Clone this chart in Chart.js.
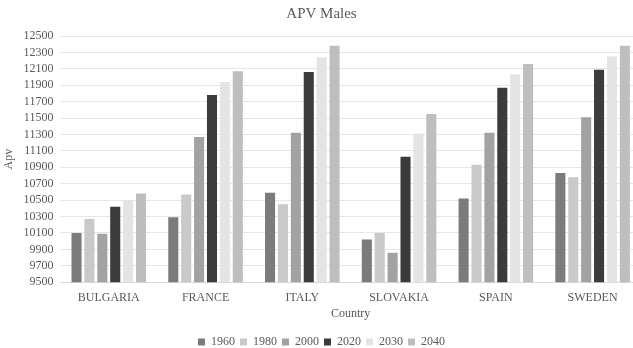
<!DOCTYPE html>
<html>
<head>
<meta charset="utf-8">
<script src="https://cdn.jsdelivr.net/npm/chart.js@4/dist/chart.umd.min.js"></script>
<style>
  html, body { margin: 0; padding: 0; background: #fff; overflow: hidden; }
  #wrap { width: 645px; height: 348px; }
</style>
</head>
<body>
<div id="wrap"><canvas id="apv" width="645" height="348"></canvas></div>
<script>
// Data
var countries = ['BULGARIA', 'FRANCE', 'ITALY', 'SLOVAKIA', 'SPAIN', 'SWEDEN'];
var years = ['1960', '1980', '2000', '2020', '2030', '2040'];
var v1960 = [10100, 10290, 10590, 10020, 10520, 10830];
var v1980 = [10270, 10570, 10450, 10100, 10930, 10780];
var v2000 = [10090, 11270, 11320, 9860, 11320, 11510];
var v2020 = [10420, 11780, 12060, 11030, 11870, 12090];
var v2030 = [10500, 11940, 12240, 11310, 12030, 12250];
var v2040 = [10580, 12070, 12380, 11550, 12160, 12380];
var yTicks = [9500, 9700, 9900, 10100, 10300, 10500, 10700, 10900, 11100, 11300, 11500, 11700, 11900, 12100, 12300, 12500];

var colors = ['#7b7b7b', '#c9c9c9', '#a2a2a2', '#3b3b3b', '#e4e4e4', '#bebebe'];
var series = [v1960, v1980, v2000, v2020, v2030, v2040];

var textColor = '#595959';
var serif = "'Liberation Serif', 'Times New Roman', serif";

function draw() {
    Chart.defaults.font.family = serif;

    var datasets = [];
    for (var i = 0; i < years.length; i++) {
        datasets.push({
            label: years[i],
            data: series[i],
            backgroundColor: colors[i],
            borderWidth: 0,
            categoryPercentage: 0.8,
            barPercentage: 0.78
        });
    }

    var ctx = document.getElementById('apv').getContext('2d');
    new Chart(ctx, {
        type: 'bar',
        data: { labels: countries, datasets: datasets },
        options: {
            responsive: false,
            animation: false,
            layout: { padding: { left: 2, right: 4, top: 1, bottom: -10 } },
            plugins: {
                title: {
                    display: true,
                    text: 'APV Males',
                    color: textColor,
                    font: { family: serif, size: 15, weight: 'normal' },
                    padding: { top: 4, bottom: 13 }
                },
                legend: {
                    position: 'bottom',
                    labels: {
                        color: textColor,
                        font: { family: serif, size: 12 },
                        boxWidth: 7,
                        boxHeight: 7,
                        padding: 5
                    }
                },
                tooltip: { enabled: false }
            },
            scales: {
                x: {
                    grid: { display: false },
                    border: { color: '#d9d9d9' },
                    ticks: { color: textColor, font: { family: serif, size: 12 }, padding: 0 },
                    title: {
                        display: true,
                        text: 'Country',
                        color: textColor,
                        font: { family: serif, size: 12 },
                        padding: { top: 2, bottom: 10 }
                    }
                },
                y: {
                    min: 9500,
                    max: 12500,
                    afterBuildTicks: function (scale) {
                        scale.ticks = yTicks.map(function (v) { return { value: v }; });
                    },
                    grid: { color: '#e6e6e6', drawTicks: false },
                    border: { display: false },
                    ticks: {
                        autoSkip: false,
                        color: textColor,
                        font: { family: serif, size: 12 },
                        padding: 7,
                        callback: function (v) { return String(v); }
                    },
                    title: {
                        display: true,
                        text: 'Apv',
                        color: textColor,
                        font: { family: serif, size: 12 },
                        padding: 0
                    }
                }
            }
        }
    });
}

if (document.fonts && document.fonts.load) {
    document.fonts.load("12px 'Liberation Serif'").then(draw, draw);
} else {
    draw();
}
</script>
</body>
</html>
